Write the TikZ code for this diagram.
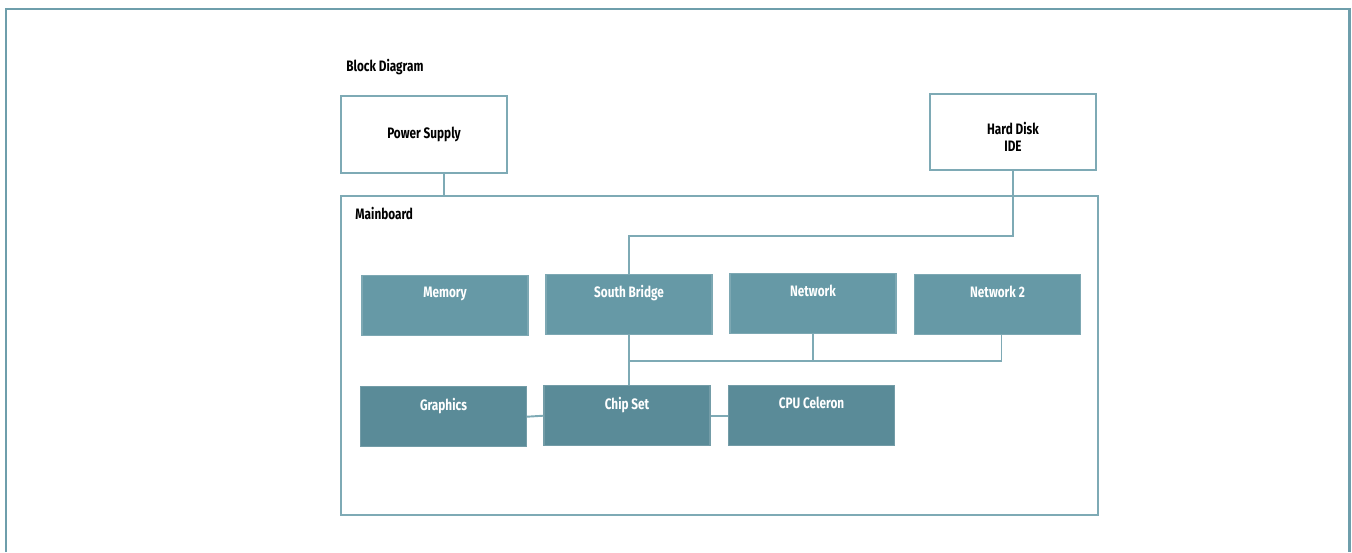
\documentclass[tikz,border=0pt]{standalone}
\usepackage{fontspec}
\setmainfont{Fira Sans}[FakeStretch=0.78]
\usetikzlibrary{positioning}

\definecolor{frameteal}{HTML}{6E9EAB}
\definecolor{lineteal}{HTML}{7EAAB5}
\definecolor{chipteal}{HTML}{6699A6}
\definecolor{darkteal}{HTML}{5A8B98}

\begin{document}
\begin{tikzpicture}[
  x=0.02cm, y=-0.02cm,
  font=\fontsize{8.6}{9.6}\selectfont\bfseries,
  outline/.style={
    draw=lineteal,
    fill=white,
    line width=1.1pt,
    align=center,
    inner sep=0pt
  },
  chip/.style={
    draw=chipteal!85!white,
    fill=chipteal,
    line width=0.6pt,
    minimum width=3.32cm,
    minimum height=1.2cm,
    inner sep=0pt
  },
  darkchip/.style={
    chip,
    draw=darkteal!85!white,
    fill=darkteal
  },
  chiplabel/.style={
    anchor=north,
    text=white,
    inner sep=0pt,
    yshift=-0.23cm
  },
  wire/.style={
    draw=lineteal,
    line width=1.1pt
  }
]

\useasboundingbox (0,0) rectangle (1352,552);

% outer frame
\draw[frameteal, line width=1.2pt] (5.7,552) -- (5.7,9.3) -- (1349.5,9.3) -- (1349.5,552);

% Title
\node[anchor=west, inner sep=0pt] (title) at (346,67) {Block Diagram};

% -------------------------------------------------------------------
% external parts
% -------------------------------------------------------------------
\node[outline, minimum width=3.32cm, minimum height=1.54cm] (power) at (424,134.5)
{Power Supply};

\node[outline, minimum width=3.32cm, minimum height=1.52cm] (disk) at (1013,132)
{\raisebox{-4pt}[\height][\depth]{\begin{tabular}{@{}c@{}}Hard Disk\\IDE\end{tabular}}};

% -------------------------------------------------------------------
% Mainboard
% -------------------------------------------------------------------
\node[
  outline,
  fill=none,
  minimum width=15.14cm,
  minimum height=6.38cm,
  label={[anchor=north west, inner sep=0pt, xshift=0.3cm, yshift=-0.24cm]north west:Mainboard}
] (board) at (719.5,355.5) {};

% upper row
\node[chip, label={[chiplabel]north:Memory}] (memory) at (445,305.3) {};
\node[chip, label={[chiplabel]north:South Bridge}] (south) at (629,304.3) {};
\node[chip, label={[chiplabel]north:Network}] (net) at (813,303.5) {};
\node[chip, label={[chiplabel]north:Network 2}] (nettwo) at (997.5,304.2) {};

% lower row
\node[darkchip, label={[chiplabel]north:Graphics}] (graphics) at (443.5,416.7) {};
\node[darkchip, label={[chiplabel]north:Chip Set}] (chipset) at (627,415.7) {};
\node[darkchip, label={[chiplabel]north:CPU Celeron}] (cpu) at (811.5,415.7) {};

% -------------------------------------------------------------------
% connections
% -------------------------------------------------------------------
\coordinate (idebend) at (629,236);
\coordinate (bus) at (629,360.7);

\draw[wire] ([xshift=0.4cm]power.south) -- ([xshift=0.4cm]power.south |- board.north);
\draw[wire] (disk.south) |- (idebend) -- (south.north);
\draw[wire] (south.south) -- (south.south |- chipset.north);
\draw[wire] ([xshift=0.08cm]nettwo.south) |- (bus);
\draw[wire] (net.south) -- (net.south |- bus);
\draw[wire] (graphics.east) -- (chipset.west);
\draw[wire] (chipset.east) -- (cpu.west);

\end{tikzpicture}
\end{document}
